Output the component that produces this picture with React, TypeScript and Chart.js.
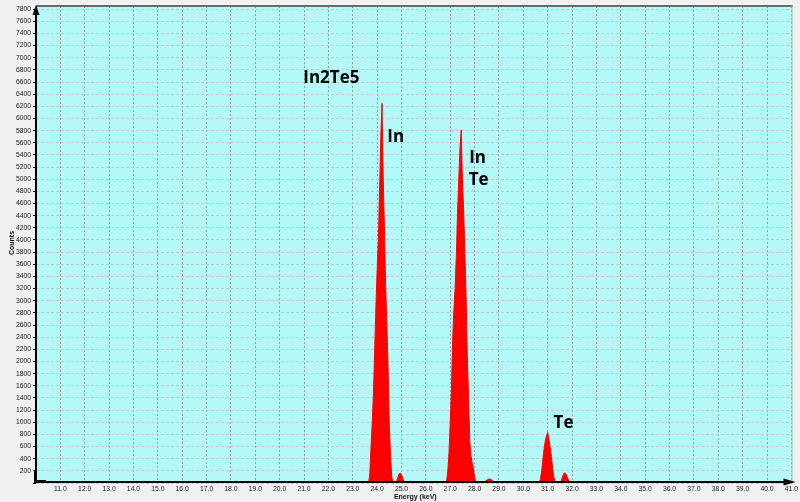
import React, { useEffect, useRef } from 'react';
import { Chart, registerables } from 'chart.js';

Chart.register(...registerables);

// Spectrum: energy (keV) and counts
const energyKeV = [
  10.0,
  15.6, 15.65, 15.7,
  21.2, 21.25, 21.3,
  23.65, 23.7, 23.75, 23.8, 23.85, 23.9, 23.95, 24.0, 24.05, 24.1, 24.15, 24.2,
  24.25, 24.3, 24.35, 24.4, 24.45, 24.5, 24.55, 24.6, 24.65,
  24.75, 24.8, 24.85, 24.9, 24.95, 25.0, 25.05, 25.1, 25.15,
  25.4, 25.45, 25.5,
  26.8, 26.85, 26.9, 26.95, 27.0, 27.05, 27.1, 27.15, 27.2, 27.25, 27.3, 27.35, 27.4, 27.45,
  27.5, 27.55, 27.6, 27.65, 27.7, 27.75, 27.8, 27.85, 27.9, 27.95, 28.0, 28.05, 28.1,
  28.35, 28.45, 28.55, 28.65, 28.75, 28.85,
  30.6, 30.65, 30.7, 30.75, 30.8, 30.85, 30.9, 30.95, 31.0, 31.05, 31.1, 31.15, 31.2, 31.25, 31.3, 31.35,
  31.5, 31.55, 31.6, 31.65, 31.7, 31.75, 31.8, 31.85, 31.9, 31.95,
  41.05,
];
const counts = [
  0,
  0, 20, 0,
  0, 15, 0,
  0, 150, 600, 1000, 1500, 2200, 2900, 3500, 4000, 4800, 5700, 6250,
  5000, 4200, 3230, 2600, 1900, 950, 450, 100, 0,
  0, 30, 90, 150, 165, 140, 80, 25, 0,
  0, 25, 0,
  0, 30, 200, 500, 1000, 1550, 2350, 2850, 3200, 3750, 4450, 5000, 5500, 5810,
  5000, 4500, 3800, 3100, 2100, 1450, 700, 450, 330, 230, 100, 20, 0,
  0, 30, 60, 65, 30, 0,
  0, 10, 60, 180, 380, 560, 690, 780, 830, 720, 590, 440, 250, 100, 30, 0,
  0, 30, 90, 150, 170, 150, 100, 50, 15, 0,
  0,
];

// Axis ranges / ticks
const xMin = 10;
const xMax = 41.05;
const xStep = 1;
const yMin = 0;
const yMax = 7850;
const yStep = 200;

// Annotations (text, energy, counts at baseline-left of text)
const noteTexts = ['In2Te5', 'In', 'In', 'Te', 'Te'];
const noteEnergy = [20.97, 24.42, 27.78, 27.76, 31.24];
const noteCounts = [6588, 5605, 5261, 4900, 898];

const xTitle = 'Energy (keV)';
const yTitle = 'Counts';

const decorPlugin = {
  id: 'decor',
  beforeDraw(chart: any) {
    const { ctx, chartArea: a } = chart;
    ctx.save();
    ctx.fillStyle = '#f0f0f0';
    ctx.fillRect(0, 0, chart.width, chart.height);
    ctx.fillStyle = '#b4f8f8';
    ctx.fillRect(a.left, a.top, a.right - a.left, a.bottom - a.top);
    ctx.restore();
  },
  afterDatasetsDraw(chart: any) {
    const { ctx, chartArea: a } = chart;
    ctx.save();
    // top border
    ctx.strokeStyle = '#6a6a6a';
    ctx.lineWidth = 2;
    ctx.beginPath();
    ctx.moveTo(a.left, a.top);
    ctx.lineTo(a.right, a.top);
    ctx.stroke();
    // right border
    ctx.strokeStyle = '#c4c4c4';
    ctx.lineWidth = 1;
    ctx.beginPath();
    ctx.moveTo(a.right - 0.5, a.top);
    ctx.lineTo(a.right - 0.5, a.bottom);
    ctx.stroke();
    // axes
    ctx.strokeStyle = '#000';
    ctx.fillStyle = '#000';
    ctx.lineWidth = 2;
    ctx.beginPath();
    ctx.moveTo(a.left, a.bottom);
    ctx.lineTo(a.left, a.top + 6);
    ctx.moveTo(a.left - 1, a.bottom - 1);
    ctx.lineTo(a.right - 8, a.bottom - 1);
    ctx.stroke();
    // corner thickening
    ctx.fillRect(a.left - 2, a.bottom - 12, 3, 12);
    ctx.fillRect(a.left - 2, a.bottom - 3, 12, 3);
    // y arrow
    ctx.beginPath();
    ctx.moveTo(a.left, a.top - 1);
    ctx.lineTo(a.left - 3.5, a.top + 9);
    ctx.lineTo(a.left + 3.5, a.top + 9);
    ctx.closePath();
    ctx.fill();
    // x arrow
    ctx.beginPath();
    ctx.moveTo(a.right + 3, a.bottom - 1);
    ctx.lineTo(a.right - 9, a.bottom - 4.5);
    ctx.lineTo(a.right - 9, a.bottom + 2.5);
    ctx.closePath();
    ctx.fill();
    ctx.restore();
  },
  afterDraw(chart: any) {
    const { ctx, chartArea: a } = chart;
    const xs = chart.scales.x;
    const ys = chart.scales.y;
    ctx.save();
    ctx.fillStyle = '#000';
    ctx.font = 'bold 17px "Open Sans"';
    ctx.textAlign = 'left';
    ctx.textBaseline = 'alphabetic';
    noteTexts.forEach((t, i) => {
      ctx.fillText(t, xs.getPixelForValue(noteEnergy[i]), ys.getPixelForValue(noteCounts[i]));
    });
    ctx.fillStyle = '#111';
    ctx.font = 'bold 7px "Liberation Sans"';
    ctx.textAlign = 'center';
    ctx.textBaseline = 'middle';
    ctx.fillText(xTitle, (a.left + a.right) / 2 + 1, 497);
    ctx.translate(12, 243);
    ctx.rotate(-Math.PI / 2);
    ctx.fillText(yTitle, 0, 0);
    ctx.restore();
  },
};

export default function App() {
  const ref = useRef<HTMLCanvasElement>(null);
  useEffect(() => {
    if (!ref.current) return;
    const points = energyKeV.map((e, i) => ({ x: e, y: counts[i] }));
    const chart = new Chart(ref.current, {
      type: 'line',
      data: {
        datasets: [
          {
            data: points,
            borderColor: '#ff0000',
            backgroundColor: '#ff0000',
            borderWidth: 1,
            pointRadius: 0,
            fill: 'origin',
            tension: 0,
          },
        ],
      },
      options: {
        responsive: false,
        animation: false,
        devicePixelRatio: 1,
        layout: { padding: { left: 0, right: 7, top: 4, bottom: 0 } },
        plugins: { legend: { display: false }, tooltip: { enabled: false } },
        scales: {
          x: {
            type: 'linear',
            min: xMin,
            max: xMax,
            afterFit: (s: any) => {
              s.height = 19;
            },
            grid: { color: '#8fa0a0', lineWidth: 1, drawTicks: false },
            border: { display: false, dash: [2, 2] },
            ticks: {
              stepSize: xStep,
              includeBounds: false,
              autoSkip: false,
              maxRotation: 0,
              padding: 2,
              color: '#1a1a1a',
              font: { family: 'Liberation Sans', size: 6.8 },
              callback: (v: any) => (Number(v) === xMin ? '' : Number(v).toFixed(1)),
            },
          },
          y: {
            type: 'linear',
            min: yMin,
            max: yMax,
            afterFit: (s: any) => {
              s.width = 36;
            },
            grid: {
              color: '#bccccc',
              lineWidth: 1,
              drawTicks: true,
              tickLength: 3,
              tickColor: '#000',
            },
            border: { display: false, dash: [3, 2] },
            ticks: {
              stepSize: yStep,
              includeBounds: false,
              autoSkip: false,
              padding: 2,
              color: '#1a1a1a',
              font: { family: 'Liberation Sans', size: 6.8 },
              callback: (v: any) => (Number(v) === 0 ? '' : String(v)),
            },
          },
        },
      },
      plugins: [decorPlugin],
    });
    return () => chart.destroy();
  }, []);
  return (
    <div
      style={{
        position: 'fixed',
        left: 0,
        top: 0,
        width: 800,
        height: 502,
        background: '#f0f0f0',
      }}
    >
      <canvas ref={ref} width={800} height={502} style={{ display: 'block' }} />
    </div>
  );
}
